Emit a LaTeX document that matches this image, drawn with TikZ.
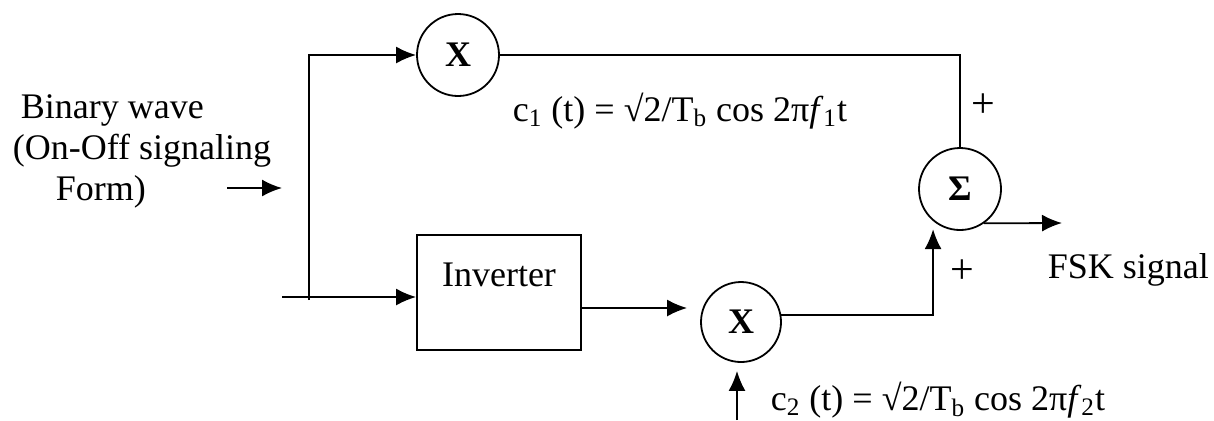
\documentclass[tikz,border=0pt]{standalone}
\usepackage{fontspec}
\setmainfont{Liberation Serif}
\usepackage{tikz}
\usetikzlibrary{arrows.meta}

\begin{document}
\begin{tikzpicture}[x=0.5pt, y=-0.5pt, line width=0.9pt,
        font=\fontsize{18}{20.5}\selectfont,
        mult/.style = {draw, circle, inner sep=0pt, minimum size=41pt, font=\fontsize{18}{20.5}\selectfont\bfseries},
        block/.style = {draw, rectangle, inner sep=0pt, minimum width=82pt, minimum height=57.5pt},
        txt/.style = {inner sep=0pt},
        sgn/.style = {inner sep=0pt, font=\fontsize{21}{24}\selectfont},
        arr/.style = {-{Latex[length=10pt,width=8.5pt]}}]
            \useasboundingbox (0,0) rectangle (1214,420);

            \node[mult] (mulA) at (458,55) {X};
            \node[mult] (sumS) at (960,189) {Σ};
            \node[mult, minimum size=40pt] (mulB) at (741,322) {X};
            \node[block] (inv) at (499,292.5) {\raisebox{17.5pt}{Inverter}};

            \coordinate (src) at (282,297);
            \coordinate (split) at (309,297);
            \coordinate (fa) at (227,188);
            \coordinate (fb) at (282,188);
            \coordinate (out) at (1062,223);
            \coordinate (c2in) at (737,420);

            \node[txt, anchor=west, align=left] (bin) at (12,151)
                {\hspace*{4pt}Binary wave\\(On-Off signaling\\\hspace*{21.5pt}Form)};
            \node[txt, anchor=west] (lblA) at (512,111)
                {c\textsubscript{1} (t) = √2/T\textsubscript{b} cos 2π\textit{f}\textsubscript{1}t};
            \node[txt, anchor=west] (lblB) at (770,400)
                {c\textsubscript{2} (t) = √2/T\textsubscript{b} cos 2π\textit{f}\textsubscript{2}t};
            \node[sgn] (plusA) at (983,106) {+};
            \node[sgn] (plusB) at (962,272) {+};
            \node[txt, anchor=west] (fsk) at (1047,270) {FSK signal};

            \draw[arr] (fa) -- (fb);
            \draw[arr] (src) -- (src -| inv.west);
            \draw[arr] ([yshift=-1.5pt]split) |- (mulA.west);
            \draw (mulA.east) -| (sumS.north);
            \draw[arr, shorten >=6.5pt] ([yshift=-7.75pt]inv.east) -- ([yshift=-7.75pt]inv.east -| mulB.west);
            \draw[arr, shorten >=4pt] (mulB.10) -| (sumS.-130);
            \draw[arr, shorten >=4pt] (c2in) -- (c2in |- mulB.south);
            \draw[arr] (sumS.-55) -- (out);
        \end{tikzpicture}
\end{document}
